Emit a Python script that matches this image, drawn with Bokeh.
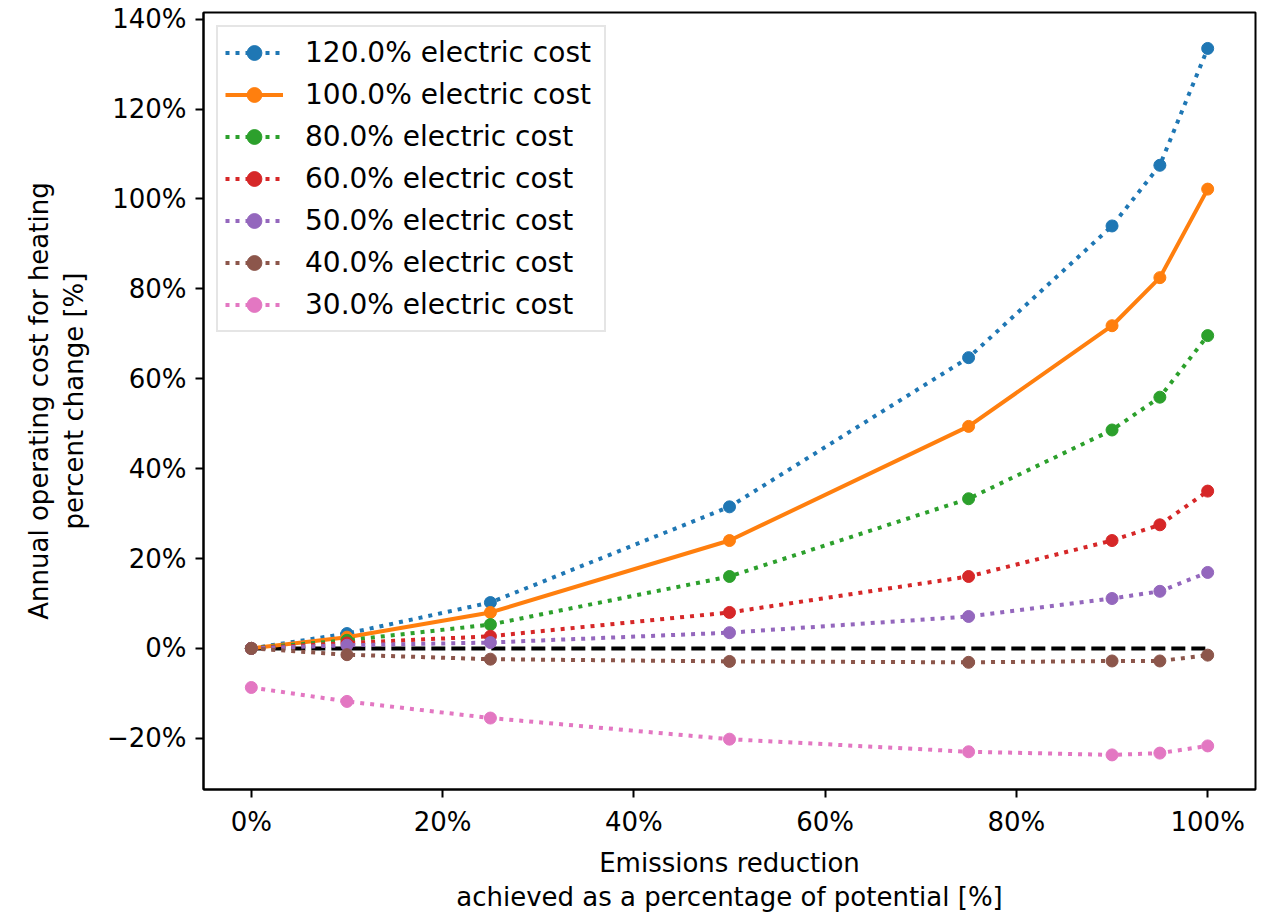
from bokeh.plotting import figure
from bokeh.models import Range1d, FixedTicker, Legend, LegendItem
from bokeh.embed import file_html
from bokeh.resources import INLINE

# ---- data ----
reduction = [0, 10, 25, 50, 75, 90, 95, 100]
cost_120 = [0, 3.3, 10.2, 31.5, 64.7, 94.0, 107.5, 133.5]
cost_100 = [0, 2.5, 8.0, 24.0, 49.4, 71.8, 82.5, 102.2]
cost_80 = [0, 1.8, 5.3, 16.0, 33.3, 48.6, 55.9, 69.6]
cost_60 = [0, 1.2, 2.7, 8.0, 16.0, 24.0, 27.5, 35.0]
cost_50 = [0, 0.7, 1.3, 3.5, 7.1, 11.1, 12.7, 16.9]
cost_40 = [0, -1.4, -2.4, -2.9, -3.1, -2.8, -2.8, -1.5]
cost_30 = [-8.7, -11.8, -15.5, -20.2, -23.0, -23.7, -23.3, -21.7]

series_labels = ["120.0% electric cost", "100.0% electric cost", "80.0% electric cost",
                 "60.0% electric cost", "50.0% electric cost", "40.0% electric cost",
                 "30.0% electric cost"]
series_values = [cost_120, cost_100, cost_80, cost_60, cost_50, cost_40, cost_30]
series_colors = ["#1f77b4", "#ff7f0e", "#2ca02c", "#d62728", "#9467bd", "#8c564b", "#e377c2"]
series_solid = [False, True, False, False, False, False, False]

zero_x = [0, 100]
zero_y = [0, 0]

x_ticks = [0, 20, 40, 60, 80, 100]
y_ticks = [-20, 0, 20, 40, 60, 80, 100, 120, 140]

FONT = "DejaVu Sans"

p = figure(width=1268, height=915,
           x_range=Range1d(-5, 105), y_range=Range1d(-31.4, 141.5),
           output_backend="svg", toolbar_location=None,
           min_border_left=203, min_border_right=13,
           min_border_top=12, min_border_bottom=122)

p.xgrid.visible = False
p.ygrid.visible = False
p.outline_line_color = "black"
p.outline_line_width = 2
p.background_fill_color = "white"
p.border_fill_color = "white"

# zero reference line
p.line(zero_x, zero_y, line_color="black", line_width=4, line_dash="14 6")

items = []
for lab, vals, col, solid in zip(series_labels, series_values, series_colors, series_solid):
    if solid:
        r1 = p.line(reduction, vals, line_color=col, line_width=4)
    else:
        r1 = p.line(reduction, vals, line_color=col, line_width=4, line_dash="4 6")
    r2 = p.scatter(reduction, vals, marker="circle", size=12,
                   fill_color=col, line_color=col)
    items.append(LegendItem(label=lab, renderers=[r1, r2]))

legend = Legend(items=items, location="top_left")
legend.label_text_font = FONT
legend.label_text_font_size = "28px"
legend.label_text_color = "black"
legend.glyph_width = 58
legend.glyph_height = 37
legend.label_height = 37
legend.label_width = 292
legend.label_standoff = 22
legend.spacing = 5
legend.padding = 7
legend.margin = 13
legend.border_line_color = "#cccccc"
legend.border_line_width = 2
legend.background_fill_alpha = 0.8
p.add_layout(legend)

for ax in (p.xaxis[0], p.yaxis[0]):
    ax.axis_line_color = "black"
    ax.axis_line_width = 2
    ax.major_tick_line_color = "black"
    ax.major_tick_line_width = 2
    ax.major_tick_out = 8
    ax.major_tick_in = 0
    ax.minor_tick_line_color = None
    ax.major_label_text_font = FONT
    ax.major_label_text_font_size = "26px"
    ax.major_label_text_color = "black"
    ax.major_label_standoff = 9
    ax.axis_label_text_font = FONT
    ax.axis_label_text_font_size = "26px"
    ax.axis_label_text_font_style = "normal"
    ax.axis_label_text_color = "black"

p.xaxis.ticker = FixedTicker(ticks=x_ticks)
p.yaxis.ticker = FixedTicker(ticks=y_ticks)
p.xaxis.major_label_overrides = {t: f"{t}%" for t in x_ticks}
p.yaxis.major_label_overrides = {t: (f"\u2212{abs(t)}%" if t < 0 else f"{t}%") for t in y_ticks}

p.xaxis.axis_label = "Emissions reduction\nachieved as a percentage of potential [%]"
p.yaxis.axis_label = "Annual operating cost for heating\npercent change [%]"
p.xaxis.axis_label_standoff = 8
p.yaxis.axis_label_standoff = 15
p.xaxis.axis_label_text_line_height = 1.15
p.yaxis.axis_label_text_line_height = 1.15

open("out.html", "w").write(file_html(p, INLINE))
